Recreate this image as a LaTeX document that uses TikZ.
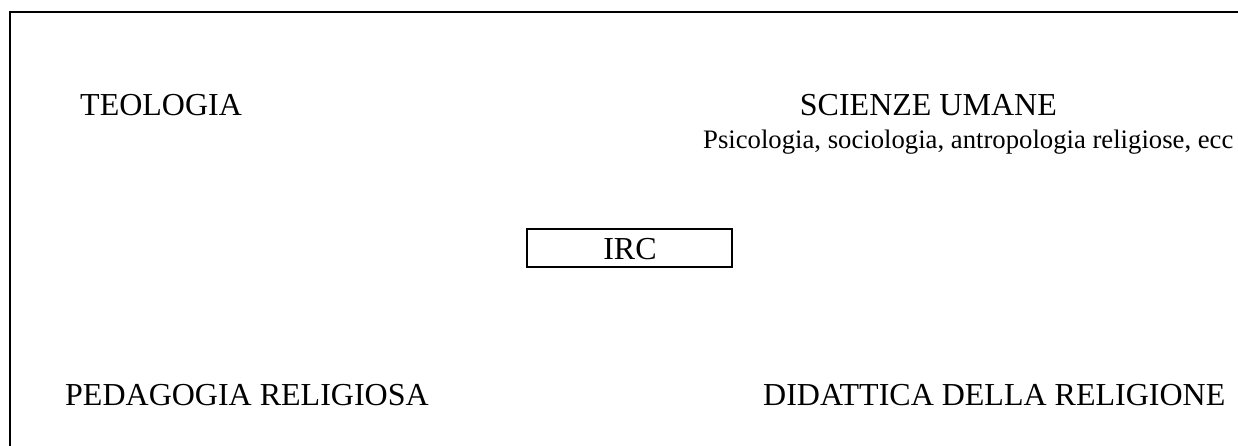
\documentclass[tikz,border=0pt]{standalone}
\usepackage{fontspec}
\setmainfont{Liberation Serif}
\begin{document}
\begin{tikzpicture}[x=1pt,y=-1pt,
  big/.style={inner sep=0pt,anchor=base west,font=\fontsize{32}{38}\selectfont},
  small/.style={inner sep=0pt,anchor=base west,font=\fontsize{26.7}{32}\selectfont}]
\useasboundingbox (0,0) rectangle (1238,445);
\draw[line width=2pt] (10,460) -- (10,12) -- (1250,12);
\node[big] (teo) at (80,115) {TEOLOGIA};
\node[big,anchor=base east] (sci) at (1057,115) {SCIENZE UMANE};
\node[small] (sub) at (703,148) {Psicologia, sociologia, antropologia religiose, ecc};
\draw[line width=1.5pt] (527,229) rectangle (732,267);
\node[big,anchor=base] (irc) at (630,259) {IRC};
\node[big] (ped) at (65,405) {PEDAGOGIA RELIGIOSA};
\node[big] (did) at (763,405) {DIDATTICA DELLA RELIGIONE};
\end{tikzpicture}
\end{document}
